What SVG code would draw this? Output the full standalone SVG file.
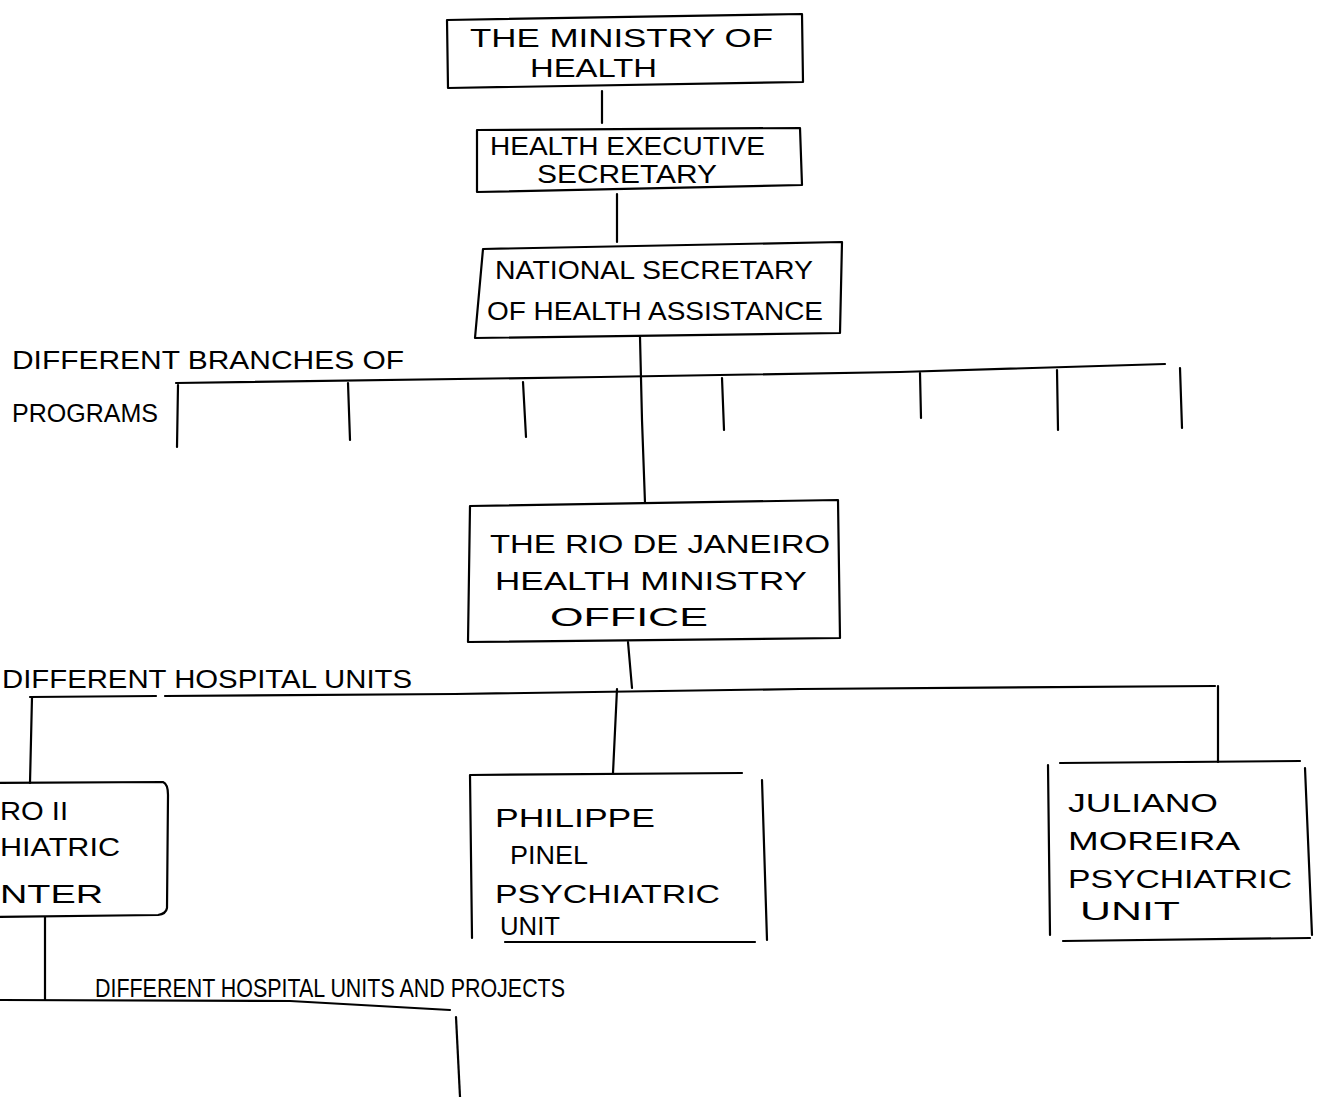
<svg xmlns="http://www.w3.org/2000/svg" width="1319" height="1097" viewBox="0 0 1319 1097">
<style>
.box{fill:none;stroke:#000;stroke-width:2.2;stroke-linejoin:round;stroke-linecap:round}
.ln{fill:none;stroke:#000;stroke-width:2.2;stroke-linecap:round}
text{font-family:"Liberation Sans","DejaVu Sans",sans-serif;fill:#000;font-size:26px}
</style>
<rect x="0" y="0" width="1319" height="1097" fill="#fff"/>
<g id="connectors">
<path class="ln" d="M602,91 L602,123"/>
<path class="ln" d="M617,194 L617,242"/>
<path class="ln" d="M640,337 L642,420 L645,503"/>
<path class="ln" d="M176,383 L600,377 L900,372 L1165,364"/>
<path class="ln" d="M178,385 L177,447"/>
<path class="ln" d="M348,383 L350,440"/>
<path class="ln" d="M523,382 L526,437"/>
<path class="ln" d="M722,378 L724,430"/>
<path class="ln" d="M920,373 L921,418"/>
<path class="ln" d="M1057,370 L1058,430"/>
<path class="ln" d="M1180,368 L1182,428"/>
<path class="ln" d="M628,642 L632,688"/>
<path class="ln" d="M30,697 L156,696 M165,696 L455,694 L800,689 L1215,686"/>
<path class="ln" d="M32,697 L30,783"/>
<path class="ln" d="M617,689 L613,773"/>
<path class="ln" d="M1218,686 L1218,762"/>
<path class="ln" d="M45,917 L45,1000"/>
<path class="ln" d="M-5,1000 L290,1001 L450,1010"/>
<path class="ln" d="M456,1017 L460,1097"/>
</g>
<g id="node-ministry">
<path class="box" d="M447,20 L802,14 L803,82 L448,88 Z"/>
<text x="470" y="47" font-size="24" textLength="303" lengthAdjust="spacingAndGlyphs">THE MINISTRY OF</text>
<text x="530" y="77" font-size="24" textLength="127" lengthAdjust="spacingAndGlyphs">HEALTH</text>
</g>
<g id="node-executive">
<path class="box" d="M477,130 L800,128 L802,185 L477,192 Z"/>
<text x="490" y="155" font-size="21" textLength="275" lengthAdjust="spacingAndGlyphs">HEALTH EXECUTIVE</text>
<text x="537" y="183" font-size="20" textLength="180" lengthAdjust="spacingAndGlyphs">SECRETARY</text>
</g>
<g id="node-national">
<path class="box" d="M483,249 L842,242 L840,333 L475,338 Z"/>
<text x="495" y="279" textLength="318" lengthAdjust="spacingAndGlyphs">NATIONAL SECRETARY</text>
<text x="487" y="320" font-size="30" textLength="336" lengthAdjust="spacingAndGlyphs">OF HEALTH ASSISTANCE</text>
</g>
<g id="label-branches">
<text x="12" y="369" textLength="392" lengthAdjust="spacingAndGlyphs">DIFFERENT BRANCHES OF</text>
<text x="12" y="422" textLength="146" lengthAdjust="spacingAndGlyphs">PROGRAMS</text>
</g>
<g id="node-rio">
<path class="box" d="M470,506 L838,500 L840,638 L468,642 Z"/>
<text x="490" y="553" font-size="30" textLength="340" lengthAdjust="spacingAndGlyphs">THE RIO DE JANEIRO</text>
<text x="495" y="590" font-size="30" textLength="312" lengthAdjust="spacingAndGlyphs">HEALTH MINISTRY</text>
<text x="550" y="626" font-size="28" textLength="158" lengthAdjust="spacingAndGlyphs">OFFICE</text>
</g>
<g id="label-hospital-units">
<text x="2" y="688" textLength="410" lengthAdjust="spacingAndGlyphs">DIFFERENT HOSPITAL UNITS</text>
</g>
<g id="node-pedro">
<path class="box" d="M-5,783 L163,782 Q168,784 168,795 L167,908 Q166,914 158,915 L-5,917"/>
<text x="0" y="820" font-size="24" textLength="68" lengthAdjust="spacingAndGlyphs">RO II</text>
<text x="0" y="856" font-size="24" textLength="120" lengthAdjust="spacingAndGlyphs">HIATRIC</text>
<text x="0" y="903" font-size="28" textLength="103" lengthAdjust="spacingAndGlyphs">NTER</text>
</g>
<g id="node-philippe">
<path class="box" d="M470,775 L742,773 M762,780 L767,940 M755,942 L505,942 M472,938 L470,775"/>
<text x="495" y="827" font-size="32" textLength="160" lengthAdjust="spacingAndGlyphs">PHILIPPE</text>
<text x="510" y="864" font-size="28" textLength="78" lengthAdjust="spacingAndGlyphs">PINEL</text>
<text x="495" y="903" font-size="30" textLength="225" lengthAdjust="spacingAndGlyphs">PSYCHIATRIC</text>
<text x="500" y="935" font-size="24" textLength="60" lengthAdjust="spacingAndGlyphs">UNIT</text>
</g>
<g id="node-juliano">
<path class="box" d="M1060,763 L1300,761 M1305,768 L1312,935 M1310,938 L1063,941 M1050,935 L1048,765"/>
<text x="1068" y="812" font-size="28" textLength="150" lengthAdjust="spacingAndGlyphs">JULIANO</text>
<text x="1068" y="850" font-size="28" textLength="172" lengthAdjust="spacingAndGlyphs">MOREIRA</text>
<text x="1068" y="888" font-size="28" textLength="224" lengthAdjust="spacingAndGlyphs">PSYCHIATRIC</text>
<text x="1080" y="920" font-size="28" textLength="100" lengthAdjust="spacingAndGlyphs">UNIT</text>
</g>
<g id="label-units-projects">
<text x="95" y="997" font-size="22" textLength="470" lengthAdjust="spacingAndGlyphs">DIFFERENT HOSPITAL UNITS AND PROJECTS</text>
</g>
</svg>
